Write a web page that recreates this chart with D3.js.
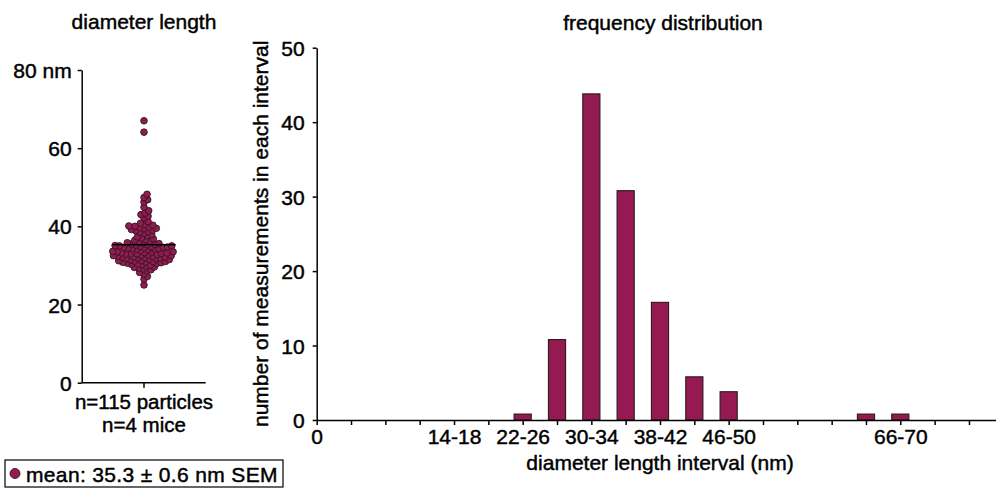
<!DOCTYPE html>
<html><head><meta charset="utf-8">
<script src="https://cdn.jsdelivr.net/npm/d3@7"></script>
<style>
body{margin:0;background:#fff;}
svg text{font-family:"Liberation Sans",Arial,Helvetica,sans-serif;fill:#000;stroke:#000;stroke-width:0.45px;}
</style></head><body>
<svg id="chart" width="996" height="488"></svg>
<script>
// ---- data ----
const diameters = [
  25.0,
  26.5, 27.2, 27.8, 28.2, 28.6, 28.9, 29.1, 29.3, 29.5, 29.6, 29.8,
  30.1, 30.3, 30.4, 30.7, 30.8, 31.0, 31.1, 31.2, 31.4, 31.5,
  31.6, 31.8, 31.9, 32.0, 32.1, 32.2, 32.3, 32.4, 32.5, 32.6,
  32.7, 32.8, 32.9, 33.0, 33.1, 33.2, 33.3, 33.4, 33.5, 33.5,
  33.6, 33.2, 33.8, 30.2, 31.0, 31.3, 32.5, 32.9, 30.6, 31.7,
  32.2, 31.9, 30.5, 30.9,
  34.0, 34.1, 34.2, 34.3, 34.4, 34.5, 34.6, 34.7, 34.8, 34.9,
  35.0, 35.1, 35.2, 35.3, 35.4, 35.5, 35.7, 35.8, 36.0, 36.2,
  36.4, 36.6, 36.8, 37.0, 37.3, 37.6, 37.9, 34.3, 34.6, 35.0, 35.6,
  38.2, 38.5, 38.7, 39.0, 39.2, 39.4, 39.5, 39.7, 39.8, 40.0,
  40.1, 40.3, 40.5, 40.8, 41.2, 38.9,
  42.2, 42.6, 43.0, 43.4, 44.0, 44.9,
  46.2, 46.8, 47.4, 48.2,
  64.1, 67.0
];
const meanValue = 35.3;
const leftTicks = [0, 20, 40, 60, 80];
const leftTickLabels = ["0", "20", "40", "60", "80 nm"];

const intervalLabels = ["2-6","6-10","10-14","14-18","18-22","22-26","26-30","30-34","34-38","38-42",
  "42-46","46-50","50-54","54-58","58-62","62-66","66-70","70-74","74-78"];
const intervalCounts = [0,0,0,0,0,1,11,44,31,16,6,4,0,0,0,1,1,0,0];
const labeledIntervals = ["14-18","22-26","30-34","38-42","46-50","66-70"];
const rightTicks = [0, 10, 20, 30, 40, 50];

const leftTitle = "diameter length";
const rightTitle = "frequency distribution";
const xLabelLines = ["n=115 particles", "n=4 mice"];
const xTitle = "diameter length interval (nm)";
const yTitle = "number of measurements in each interval";
const legendText = "mean: 35.3 \u00b1 0.6 nm SEM";

// ---- drawing ----
const FILL = "#951a52", EDGE = "#2a1a20";
const svg = d3.select("#chart");
const FS = 21;

function styleAxis(g) {
  g.selectAll("path.domain").attr("stroke", "#000").attr("stroke-width", 1.5);
  g.selectAll(".tick line").attr("stroke", "#000").attr("stroke-width", 1.5);
  g.selectAll(".tick text").attr("font-size", FS).attr("font-family", null).attr("fill", "#000");
}

// Left panel
const yL = d3.scaleLinear().domain([0, 80]).range([382.7, 70]);
const cx0 = 144;

const gLy = svg.append("g").attr("transform", "translate(81.7,0)")
  .call(d3.axisLeft(yL).tickValues(leftTicks).tickFormat((d, i) => leftTickLabels[i])
    .tickSize(4).tickSizeOuter(0).tickPadding(6));
styleAxis(gLy);
gLy.selectAll(".tick text").attr("dy", "0.36em");

svg.append("line").attr("x1", 81.7).attr("x2", 205.7).attr("y1", yL(0)).attr("y2", yL(0))
  .attr("stroke", "#000").attr("stroke-width", 1.5);
svg.append("line").attr("x1", cx0).attr("x2", cx0).attr("y1", yL(0)).attr("y2", yL(0) + 5)
  .attr("stroke", "#000").attr("stroke-width", 1.5);

// beeswarm layout
const r = 3.3, minD = 2 * r * 0.66;
const pts = diameters.map(v => ({ v, y: yL(v) })).sort((a, b) => a.v - b.v);
const placed = [];
pts.forEach(p => {
  const cands = [0];
  placed.forEach(q => {
    const dy = Math.abs(q.y - p.y);
    if (dy < minD) {
      const dx = Math.sqrt(minD * minD - dy * dy);
      cands.push(q.x + dx, q.x - dx);
    }
  });
  cands.sort((a, b) => Math.abs(a) - Math.abs(b));
  for (const c of cands) {
    if (placed.every(q => (q.x - c) ** 2 + (q.y - p.y) ** 2 >= minD * minD - 1e-6)) { p.x = c; break; }
  }
  placed.push(p);
});

svg.append("g").selectAll("circle").data(placed).join("circle")
  .attr("cx", d => cx0 + d.x).attr("cy", d => d.y).attr("r", r)
  .attr("fill", FILL).attr("stroke", EDGE).attr("stroke-width", 0.9);

svg.append("line").attr("x1", 112.7).attr("x2", 175.7)
  .attr("y1", yL(meanValue)).attr("y2", yL(meanValue))
  .attr("stroke", "#000").attr("stroke-width", 1.6);

svg.append("text").attr("x", cx0).attr("y", 29).attr("text-anchor", "middle")
  .attr("font-size", FS).text(leftTitle);
xLabelLines.forEach((t, i) => {
  svg.append("text").attr("text-anchor", "middle").attr("font-size", 20.5)
    .attr("x", cx0).attr("y", 408.5 + i * 23.2).text(t);
});

// legend
svg.append("rect").attr("x", 5).attr("y", 460).attr("width", 278).attr("height", 27)
  .attr("fill", "#fff").attr("stroke", "#000").attr("stroke-width", 1.2);
svg.append("circle").attr("cx", 15).attr("cy", 473.5).attr("r", 5)
  .attr("fill", FILL).attr("stroke", EDGE).attr("stroke-width", 0.9);
svg.append("text").attr("x", 26).attr("y", 481.5).attr("font-size", FS)
  .attr("letter-spacing", "0.35px").text(legendText);

// Right panel
const centerOf = lab => { const [a, b] = lab.split("-").map(Number); return (a + b) / 2; };
const xR = d3.scaleLinear().domain([0, 80]).range([316.7, 1003.3]);
const yR = d3.scaleLinear().domain([0, 50]).range([420, 47.7]);
const bins = intervalLabels.map((lab, i) => ({ lab, c: centerOf(lab), n: intervalCounts[i] }));
const binW = xR(2) - xR(0);

svg.append("g").selectAll("rect").data(bins.filter(d => d.n > 0)).join("rect")
  .attr("x", d => xR(d.c) - binW / 2).attr("width", binW)
  .attr("y", d => yR(d.n) + 1.5).attr("height", d => yR(0) - yR(d.n) - 1.5)
  .attr("fill", FILL).attr("stroke", EDGE).attr("stroke-width", 1.1);

const gRx = svg.append("g").attr("transform", `translate(0,${yR(0)})`)
  .call(d3.axisBottom(xR).tickValues([0, ...bins.map(d => d.c)])
    .tickFormat(d => {
      if (d === 0) return "0";
      const b = bins.find(x => x.c === d);
      return labeledIntervals.includes(b.lab) ? b.lab : "";
    }).tickSize(5).tickSizeOuter(0).tickPadding(4));
styleAxis(gRx);
gRx.selectAll(".tick text").attr("dy", "0.71em");

const gRy = svg.append("g").attr("transform", `translate(316.7,0)`)
  .call(d3.axisLeft(yR).tickValues(rightTicks).tickSize(4).tickSizeOuter(0).tickPadding(8));
styleAxis(gRy);
gRy.selectAll(".tick text").attr("dy", "0.36em");

svg.append("text").attr("x", 663).attr("y", 30).attr("text-anchor", "middle")
  .attr("font-size", FS).text(rightTitle);
svg.append("text").attr("x", 660).attr("y", 470).attr("text-anchor", "middle")
  .attr("font-size", FS).text(xTitle);
svg.append("text").attr("transform", `translate(268,${(yR(0) + yR(50)) / 2}) rotate(-90)`)
  .attr("text-anchor", "middle").attr("font-size", FS).text(yTitle);
</script>
</body></html>
